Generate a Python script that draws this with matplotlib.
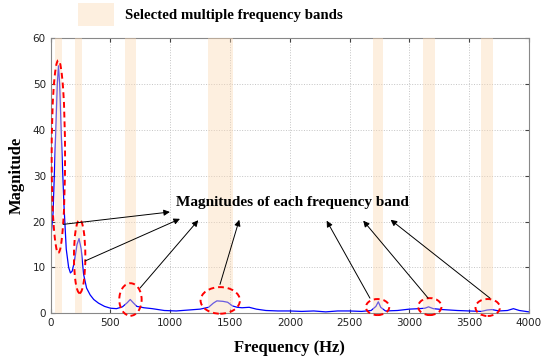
import matplotlib
matplotlib.use("Agg")
import matplotlib.pyplot as plt
from matplotlib.patches import Ellipse, Rectangle

# spectrum
freq = [0, 20, 40, 55, 65, 75, 90, 110, 130, 150, 165, 180, 200, 220, 237, 255,
        275, 300, 330, 360, 400, 450, 500, 550, 600, 640, 665, 690, 720, 780,
        850, 950, 1050, 1150, 1250, 1320, 1360, 1390, 1440, 1480, 1520, 1560,
        1600, 1660, 1720, 1800, 1900, 2000, 2100, 2200, 2300, 2400, 2500, 2600,
        2680, 2720, 2740, 2760, 2800, 2900, 3000, 3080, 3130, 3160, 3200, 3280,
        3400, 3500, 3600, 3650, 3690, 3750, 3820, 3870, 3920, 4000]
mag = [16, 22, 38, 50, 54, 50, 38, 24, 14, 10, 8.8, 9.2, 11.5, 15, 16.3, 14,
       8.5, 5.5, 4.0, 3.0, 2.2, 1.5, 1.1, 1.0, 1.4, 2.3, 3.0, 2.3, 1.5, 1.2,
       1.0, 0.6, 0.5, 0.7, 0.9, 1.3, 2.2, 2.7, 2.6, 2.4, 1.6, 1.3,
       1.2, 1.3, 0.9, 0.6, 0.5, 0.5, 0.4, 0.5, 0.3, 0.5, 0.5, 0.4,
       0.6, 1.5, 2.5, 1.3, 0.5, 0.6, 0.9, 1.0, 1.1, 1.4, 1.0, 0.8,
       0.6, 0.5, 0.4, 0.7, 0.8, 0.5, 0.6, 1.0, 0.6, 0.3]

# selected bands (Hz)
band_lo = [36, 203, 621, 1318, 2697, 3115, 3603]
band_hi = [92, 259, 713, 1527, 2781, 3213, 3700]

# red ellipses: centre freq, centre mag, width (Hz), height
ell_x = [64, 242, 667, 1418, 2734, 3171, 3655]
ell_y = [34.2, 12.4, 3.0, 2.8, 1.35, 1.45, 1.25]
ell_w = [112, 95, 187, 329, 195, 195, 204]
ell_h = [42, 16, 7.1, 5.8, 3.5, 3.7, 3.7]

# arrows: tail -> head
arr_tail = [(105, 19.4), (287, 11.4), (747, 5.5), (1416, 6.3),
            (2670, 3.3), (3157, 3.3), (3674, 3.3)]
arr_head = [(997, 22.1), (1081, 20.6), (1234, 20.3), (1577, 20.4),
            (2308, 20.2), (2614, 20.2), (2843, 20.4)]

serif = ["Liberation Serif", "DejaVu Serif"]

fig = plt.figure(figsize=(5.47, 3.58), dpi=100)
ax = fig.add_axes([0.0927, 0.125, 0.8743, 0.768])

ax.plot(freq, mag, color="blue", lw=0.9, zorder=2)
for lo, hi in zip(band_lo, band_hi):
    ax.axvspan(lo, hi, color="#fbd9b5", alpha=0.42, lw=0, zorder=3)

for x, y, w, h in zip(ell_x, ell_y, ell_w, ell_h):
    ax.add_patch(Ellipse((x, y), w, h, fill=False, ec="red", ls=(0, (3, 2)),
                         lw=1.4, zorder=5, clip_on=False))

for t, h in zip(arr_tail, arr_head):
    ax.annotate("", xy=h, xytext=t,
                arrowprops=dict(arrowstyle="-|>", color="black", lw=0.7,
                                mutation_scale=9, shrinkA=0, shrinkB=0),
                zorder=6)

ax.text(2018, 24.1, "Magnitudes of each frequency band", ha="center",
        va="center", fontsize=11, fontweight="bold", family=serif, zorder=7)

ax.set_xlim(0, 4000)
ax.set_ylim(0, 60)
ax.set_xticks(range(0, 4001, 500))
ax.set_yticks(range(0, 61, 10))
ax.grid(True, ls=":", color="#c4c4c4", lw=0.7)
ax.tick_params(direction="in", top=True, right=True, labelsize=7.5,
               colors="#444444", length=3)
for tl in ax.get_xticklabels() + ax.get_yticklabels():
    tl.set_color("#222222")
for s in ax.spines.values():
    s.set_color("#888888")

ax.set_xlabel("Frequency (Hz)", fontsize=12, fontweight="bold",
              family=serif, va="center")
ax.set_ylabel("Magnitude", fontsize=12, fontweight="bold",
              family=serif, va="center")
ax.xaxis.set_label_coords(0.5, -0.126)
ax.yaxis.set_label_coords(-0.07, 0.5)

# legend for the bands
fig.patches.append(Rectangle((78 / 547, 1 - 26 / 358), 36 / 547, 23 / 358,
                             transform=fig.transFigure, color="#fbd9b5",
                             alpha=0.42, lw=0))
fig.text(125 / 547, 1 - 16 / 358, "Selected multiple frequency bands",
         fontsize=10.7, fontweight="bold", family=serif, va="center")

fig.savefig("out.png", dpi=100)
